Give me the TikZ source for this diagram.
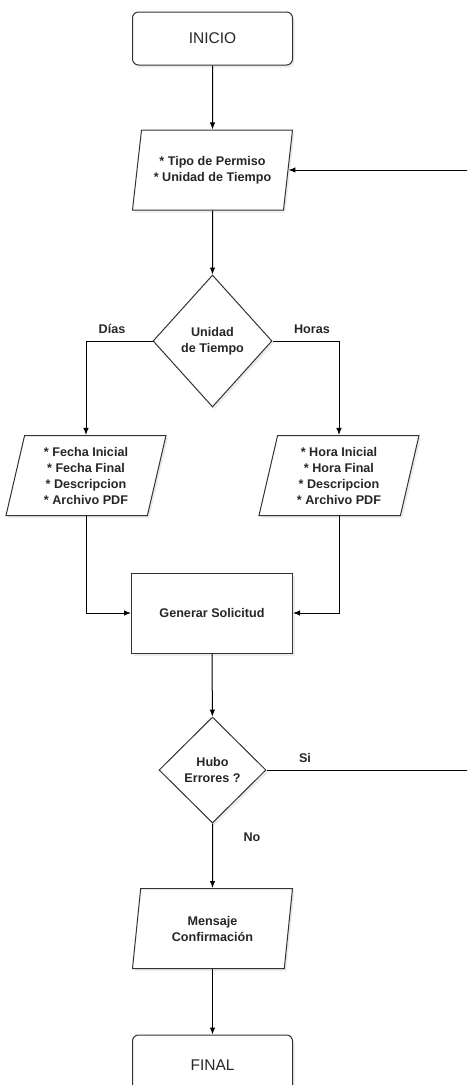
\documentclass[tikz,border=0pt]{standalone}
\usepackage{fontspec}
\setmainfont{Liberation Sans}
\usetikzlibrary{shapes.geometric,shadows,arrows.meta}
\begin{document}
\begin{tikzpicture}[x=1pt,y=-1pt,
  every node/.style={font=\bfseries\fontsize{12.6}{16}\selectfont, text=black!85},
  soft/.style={drop shadow={opacity=0.15,shadow xshift=2pt,shadow yshift=-2.5pt}},
  shapeline/.style={draw=black!80, line width=1pt, fill=white, soft, inner sep=0pt, align=center},
  terminal/.style={shapeline, rounded corners=6pt, minimum width=160pt, minimum height=53pt,
    font=\fontsize{15.5}{18}\selectfont},
  io/.style={shapeline, trapezium, trapezium left angle=72, trapezium right angle=108,
    trapezium stretches body, minimum width=160pt, minimum height=80pt},
  process/.style={shapeline, minimum width=161pt, minimum height=80pt},
  decision/.style={shapeline, diamond},
  flow/.style={draw=black, line width=1pt, -{Latex[length=7pt,width=5.5pt]}},
  lbl/.style={inner sep=0pt}
]
\useasboundingbox (0,0) rectangle (467,1085);
\clip (0,0) rectangle (467,1085);

% shapes
\node[terminal] (inicio) at (212.5,38.5) {INICIO};
\node[io] (datos) at (212.5,170) {* Tipo de Permiso\\* Unidad de Tiempo};
\node[decision, minimum width=119pt, minimum height=132pt] (unidad) at (212.5,341) {Unidad\\de Tiempo};
\node[io] (dias) at (86,475.5) {* Fecha Inicial\\* Fecha Final\\* Descripcion\\* Archivo PDF};
\node[io] (horas) at (339,475.5) {* Hora Inicial\\* Hora Final\\* Descripcion\\* Archivo PDF};
\node[process] (generar) at (212,613) {Generar Solicitud};
\node[decision, minimum width=107pt, minimum height=106pt] (errores) at (212.5,770) {Hubo\\Errores ?};
\node[io] (mensaje) at (212.5,928.5) {Mensaje\\Confirmación};
\node[terminal, minimum height=60pt] (final) at (212.5,1065) {FINAL};

% branch labels
\node[lbl] (ldias) at (112,329) {Días};
\node[lbl] (lhoras) at (312,329) {Horas};
\node[lbl] (lsi) at (305,758) {Si};
\node[lbl] (lno) at (252,837) {No};

% connectors
\coordinate (rim) at (480,0);
\draw[flow] (inicio) -- (datos);
\draw[flow] (datos) -- (unidad);
\draw[flow] (unidad.west) -| (dias.north);
\draw[flow] (unidad.east) -| (horas.north);
\draw[flow] (dias.south) |- (generar.west);
\draw[flow] (horas.south) |- (generar.east);
\draw[flow] (generar) -- (errores);
\draw[flow] (errores.east) -- (errores.east -| rim) -- (rim |- datos.east) -- (datos.east);
\draw[flow] (errores) -- (mensaje);
\draw[flow] (mensaje) -- (final);
\end{tikzpicture}
\end{document}
